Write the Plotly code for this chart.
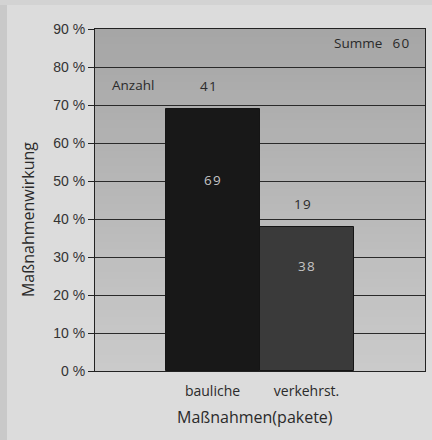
import plotly.graph_objects as go

# Measure packages and their effect
categories = ["bauliche", "verkehrst."]
wirkung = [69, 38]          # Maßnahmenwirkung in %
anzahl = [41, 19]           # number of measures per package
summe = 60

y_ticks = list(range(0, 91, 10))
y_tick_labels = [f"{v} %" for v in y_ticks]

bar_colors = ["#181818", "#3a3a3a"]
hum_font = "Open Sans"
num_font = "Liberation Sans"

fig = go.Figure()
fig.add_trace(go.Bar(
    x=categories,
    y=wirkung,
    marker=dict(color=bar_colors, line=dict(color="#151515", width=1)),
    width=1.0,
    hoverinfo="skip",
))

# Vertical gradient behind the grid (dark at top, lighter at bottom)
shapes = []
n = 45
top = (0xa6, 0xa6, 0xa6)
bot = (0xca, 0xca, 0xca)
for i in range(n):
    t = i / (n - 1)
    c = tuple(round(bot[k] + (top[k] - bot[k]) * t) for k in range(3))
    y0 = 90 * i / n
    y1 = min(90, 90 * (i + 1) / n + 0.8)
    shapes.append(dict(
        type="rect", xref="x domain", yref="y",
        x0=0, x1=1, y0=y0, y1=y1,
        fillcolor="rgb(%d,%d,%d)" % c, line=dict(width=0), layer="below",
    ))
# darker scan edges of the page
shapes.append(dict(type="rect", xref="paper", yref="paper", x0=-0.3, x1=-0.2667,
                   y0=-0.3, y1=1.2, fillcolor="#c9c9c9", line=dict(width=0), layer="below"))
shapes.append(dict(type="rect", xref="paper", yref="paper", x0=-0.3, x1=1.1,
                   y0=1.0703, y1=1.2, fillcolor="#d3d3d3", line=dict(width=0), layer="below"))

annotations = []
# value labels inside the bars
for cat, v in zip(categories, wirkung):
    annotations.append(dict(
        x=cat, y=v * 0.73, text="&#8202;".join(str(v)), showarrow=False,
        font=dict(family=hum_font, size=13.5, color="#c4c4c4"),
    ))
# counts above the bars
for cat, v, a in zip(categories, wirkung, anzahl):
    annotations.append(dict(
        x=cat, y=v + 6, text="&#8202;".join(str(a)), showarrow=False, xshift=-4,
        font=dict(family=hum_font, size=13.5, color="#2a2a2a"),
    ))
annotations += [
    dict(x=0.115, y=75.3, xref="paper", yref="y", xanchor="center", text="Anzahl",
         showarrow=False, font=dict(family=hum_font, size=13.5, color="#2a2a2a")),
    dict(x=0.961, y=86.2, xref="paper", yref="y", xanchor="right",
         text="Summe&#8194; " + "&#8202;".join(str(summe)), showarrow=False,
         font=dict(family=hum_font, size=13.5, color="#2a2a2a")),
    dict(x=-0.203, y=0.4415, xref="paper", yref="paper", xanchor="center",
         yanchor="middle", text="Maßnahmenwirkung", textangle=-90, showarrow=False,
         font=dict(family=hum_font, size=16, color="#2a2a2a")),
    dict(x=0.485, y=-0.1345, xref="paper", yref="paper", xanchor="center",
         yanchor="middle", text="Maßnahmen(pakete)", showarrow=False,
         font=dict(family=hum_font, size=16, color="#2a2a2a")),
]

fig.update_layout(
    width=432, height=440,
    margin=dict(l=95, r=7, t=29, b=69),
    paper_bgcolor="#dcdcdc",
    plot_bgcolor="rgba(0,0,0,0)",
    bargap=0,
    showlegend=False,
    shapes=shapes,
    annotations=annotations,
    xaxis=dict(
        type="category", range=[-1.25, 2.26],
        showgrid=False, showline=True, linecolor="#222", linewidth=1.2, mirror=True,
        ticks="outside", ticklen=7, tickcolor="rgba(0,0,0,0)",
        tickfont=dict(family=hum_font, size=14, color="#2a2a2a"),
        fixedrange=True,
    ),
    yaxis=dict(
        range=[0, 90], tickvals=y_ticks, ticktext=y_tick_labels,
        showgrid=True, gridcolor="#2a2a2a", gridwidth=1,
        showline=True, linecolor="#222", linewidth=1.2, mirror=True,
        ticks="outside", ticklen=6, tickcolor="#222",
        tickfont=dict(family=num_font, size=14, color="#333"),
        zeroline=False, fixedrange=True,
    ),
)

fig.write_html("out.html")
